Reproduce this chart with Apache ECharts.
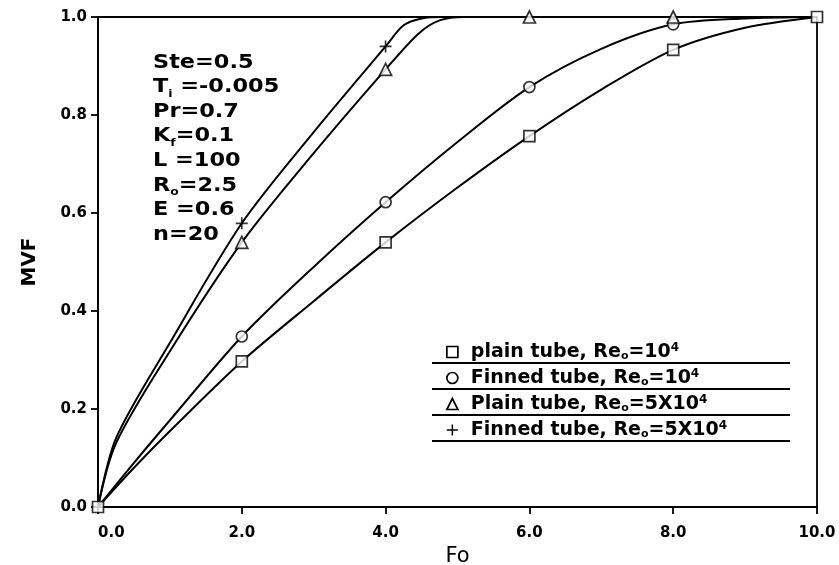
<!DOCTYPE html>
<html>
<head>
<meta charset="utf-8">
<script src="https://cdn.jsdelivr.net/npm/echarts@6/dist/echarts.min.js"></script>
<style>
  html, body { margin: 0; padding: 0; background: #fff; }
  #chart { width: 839px; height: 565px; }
</style>
</head>
<body>
<div id="chart"></div>
<script>
// Melted volume fraction (MVF) against Fourier number (Fo)
const xTicks = [0, 2, 4, 6, 8, 10];
const yTicks = [0, 0.2, 0.4, 0.6, 0.8, 1.0];

// Smooth curves, [Fo, MVF]
const plainLoCurve  = [[0,0],[0.5,0.08],[1,0.155],[2,0.297],[3,0.42],[4,0.54],[5,0.652],[6,0.757],[7,0.852],[8,0.933],[9,0.978],[10,1.0]];
const finnedLoCurve = [[0,0],[0.5,0.09],[1,0.177],[2,0.348],[3,0.49],[4,0.622],[5,0.745],[6,0.857],[7,0.935],[8,0.985],[9,0.997],[10,1.0]];
const plainHiCurve  = [[0,0],[0.25,0.13],[1,0.318],[2,0.54],[3,0.722],[4,0.893],[4.45,0.965],[4.75,0.993],[5.1,1.0],[6,1.0],[8,1.0],[10,1.0]];
const finnedHiCurve = [[0,0],[0.25,0.14],[1,0.335],[2,0.579],[3,0.765],[4,0.94],[4.25,0.983],[4.5,0.997],[4.8,1.0],[6,1.0],[8,1.0],[10,1.0]];

// Marked points, [Fo, MVF]
const plainLoPts  = [[0,0],[2,0.297],[4,0.54],[6,0.757],[8,0.933],[10,1.0]];
const finnedLoPts = [[2,0.348],[4,0.622],[6,0.857],[8,0.985]];
const plainHiPts  = [[2,0.54],[4,0.893],[6,1.0],[8,1.0]];
const finnedHiPts = [[2,0.579],[4,0.94]];

const seriesNames = [
  'plain tube, Reo=10^4',
  'Finned tube, Reo=10^4',
  'Plain tube, Reo=5X10^4',
  'Finned tube, Reo=5X10^4'
];
const legendLabels = [
  'plain tube, Re{s|o}=10{p|4}',
  'Finned tube, Re{s|o}=10{p|4}',
  'Plain tube, Re{s|o}=5X10{p|4}',
  'Finned tube, Re{s|o}=5X10{p|4}'
];
const paramLines = [
  'Ste=0.5',
  'T{s|i} =-0.005',
  'Pr=0.7',
  'K{s|f}=0.1',
  'L =100',
  'R{s|o}=2.5',
  'E =0.6',
  'n=20'
];

const FONT = '"DejaVu Sans", "Liberation Sans", Arial, sans-serif';
const plusPath = 'path://M4.3,0H5.7V4.3H10V5.7H5.7V10H4.3V5.7H0V4.3H4.3Z';
const symbols = ['rect', 'circle', 'triangle', plusPath];
const sizes = [11, 11, 12, 12];
const curves = [plainLoCurve, finnedLoCurve, plainHiCurve, finnedHiCurve];
const points = [plainLoPts, finnedLoPts, plainHiPts, finnedHiPts];

const hollow = { color: '#fff', borderColor: '#000', borderWidth: 1.7 };
const solid = { color: '#000', borderWidth: 0 };

const series = [];
curves.forEach((c, i) => {
  series.push({
    name: seriesNames[i],
    type: 'line',
    data: c,
    smooth: 0.3,
    showSymbol: false,
    clip: true,
    lineStyle: { color: '#000', width: 2 },
    itemStyle: i === 3 ? solid : hollow,
    z: 2,
    silent: true
  });
});
points.forEach((p, i) => {
  series.push({
    name: seriesNames[i],
    type: 'scatter',
    data: p,
    symbol: symbols[i],
    symbolSize: sizes[i],
    itemStyle: i === 3 ? solid : hollow,
    z: 3,
    silent: true
  });
});

const legendTop = 337;
const rowStep = 26;
const underlines = [0, 1, 2, 3].map(k => ({
  type: 'line',
  shape: { x1: 432, y1: legendTop + 26 + k * rowStep, x2: 790, y2: legendTop + 26 + k * rowStep },
  style: { stroke: '#000', lineWidth: 1.8 }
}));

const option = {
  animation: false,
  backgroundColor: '#fff',
  grid: {
    left: 98, right: 22, top: 17, bottom: 58,
    containLabel: false, outerBoundsMode: 'none',
    show: true, borderColor: '#000', borderWidth: 1.8, backgroundColor: 'transparent'
  },
  xAxis: {
    type: 'value', min: 0, max: 10, interval: 2,
    name: 'Fo', nameLocation: 'middle', nameGap: 38,
    nameTextStyle: { fontFamily: FONT, fontSize: 21, color: '#000' },
    axisLine: { lineStyle: { color: '#000', width: 1.8 } },
    axisTick: { inside: false, length: 7, lineStyle: { color: '#000', width: 1.8 } },
    axisLabel: {
      margin: 19, fontFamily: FONT, fontWeight: 'bold', fontSize: 15, color: '#000',
      alignMinLabel: 'left', alignMaxLabel: 'center',
      formatter: v => v.toFixed(1)
    },
    splitLine: { show: false }
  },
  yAxis: {
    type: 'value', min: 0, max: 1, interval: 0.2,
    name: 'MVF', nameLocation: 'middle', nameGap: 58, nameRotate: 90,
    nameTextStyle: { fontFamily: FONT, fontWeight: 'bold', fontSize: 20, color: '#000' },
    axisLine: { lineStyle: { color: '#000', width: 1.8 } },
    axisTick: { inside: false, length: 7, lineStyle: { color: '#000', width: 1.8 } },
    axisLabel: {
      margin: 11, fontFamily: FONT, fontWeight: 'bold', fontSize: 15, color: '#000',
      formatter: v => v.toFixed(1)
    },
    splitLine: { show: false }
  },
  legend: {
    orient: 'vertical', left: 441, top: legendTop,
    itemWidth: 11, itemHeight: 11, itemGap: rowStep - 20,
    selectedMode: false,
    data: seriesNames.map((n, i) => ({
      name: n, icon: symbols[i],
      itemStyle: i === 3 ? solid : hollow
    })),
    formatter: name => legendLabels[seriesNames.indexOf(name)],
    textStyle: {
      fontFamily: FONT, fontWeight: 'bold', fontSize: 19, color: '#000', lineHeight: 20,
      padding: [0, 0, 0, 8],
      rich: {
        s: { fontFamily: FONT, fontWeight: 'bold', fontSize: 11, verticalAlign: 'bottom', lineHeight: 20, color: '#000' },
        p: { fontFamily: FONT, fontWeight: 'bold', fontSize: 12, verticalAlign: 'top', lineHeight: 20, color: '#000' }
      }
    }
  },
  graphic: underlines.concat([{
    type: 'text', left: 153, top: 50, scaleX: 1.12,
    style: {
      text: paramLines.join('\n'),
      fontFamily: FONT, fontWeight: 'bold', fontSize: 20, lineHeight: 24.6, fill: '#000',
      rich: {
        s: { fontFamily: FONT, fontWeight: 'bold', fontSize: 11, verticalAlign: 'bottom', lineHeight: 24.6, fill: '#000' }
      }
    }
  }]),
  series: series
};

const chart = echarts.init(document.getElementById('chart'), null, { renderer: 'canvas' });
chart.setOption(option);
</script>
</body>
</html>
